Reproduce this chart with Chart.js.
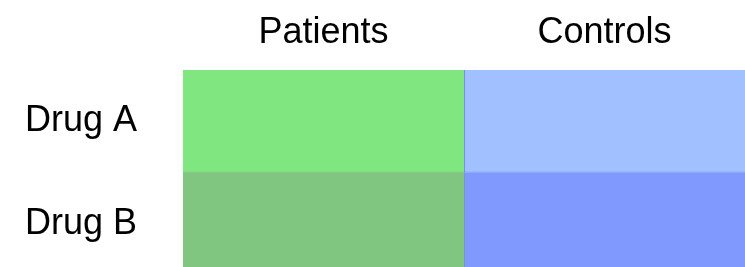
<!DOCTYPE html>
<html>
<head>
<meta charset="utf-8">
<script src="https://cdn.jsdelivr.net/npm/chart.js@4/dist/chart.umd.min.js"></script>
<style>
  html, body { margin: 0; padding: 0; background: #fff; overflow: hidden; }
  #wrap { width: 745px; height: 275px; }
</style>
</head>
<body>
<div id="wrap"><canvas id="grid"></canvas></div>
<script>
// rows and columns of the grid
const drugs = ['Drug A', 'Drug B'];
const groups = ['Patients', 'Controls'];
// every cell has the same size
const patients = [1, 1];
const controls = [1, 1];
const patientColors = ['#80e680', '#80c680'];
const controlColors = ['#a0c0ff', '#8099ff'];

const fontFamily = '"Liberation Sans", Arial, sans-serif';

new Chart(document.getElementById('grid').getContext('2d'), {
    type: 'bar',
    data: {
        labels: drugs,
        datasets: [{
            label: groups[0],
            data: patients,
            backgroundColor: patientColors,
            borderColor: '#4cb84c',
            borderWidth: ctx => ctx.dataIndex === 0 ? { top: 0, left: 0, right: 0, bottom: 1 } : 0,
            borderSkipped: false,
            barPercentage: 1,
            categoryPercentage: 1
        }, {
            label: groups[1],
            data: controls,
            backgroundColor: controlColors,
            borderColor: '#5a78f0',
            borderWidth: ctx => ({ top: 0, right: 0, left: 1, bottom: ctx.dataIndex === 0 ? 1 : 0 }),
            borderSkipped: false,
            barPercentage: 1,
            categoryPercentage: 1
        }]
    },
    options: {
        indexAxis: 'y',
        responsive: true,
        maintainAspectRatio: false,
        animation: false,
        devicePixelRatio: 1,
        layout: { padding: 0 },
        plugins: {
            legend: { display: false },
            tooltip: { enabled: false }
        },
        scales: {
            x: {
                stacked: true,
                display: false,
                min: 0,
                max: 2,
                afterFit: scale => { scale.height = 0; }
            },
            x2: {
                type: 'category',
                labels: groups,
                position: 'top',
                offset: true,
                grid: { display: false },
                border: { display: false },
                ticks: {
                    color: '#000',
                    padding: 7,
                    font: { family: fontFamily, size: 36 }
                },
                afterFit: scale => { scale.height = 70; }
            },
            y: {
                stacked: true,
                grid: { display: false },
                border: { display: false },
                ticks: {
                    color: '#000',
                    padding: 38,
                    font: { family: fontFamily, size: 36 }
                },
                afterFit: scale => {
                    scale.width = 183;
                    // no extra room above/below for the tick labels
                    scale.paddingTop = 0;
                    scale.paddingBottom = 0;
                }
            }
        }
    }
});
</script>
</body>
</html>
